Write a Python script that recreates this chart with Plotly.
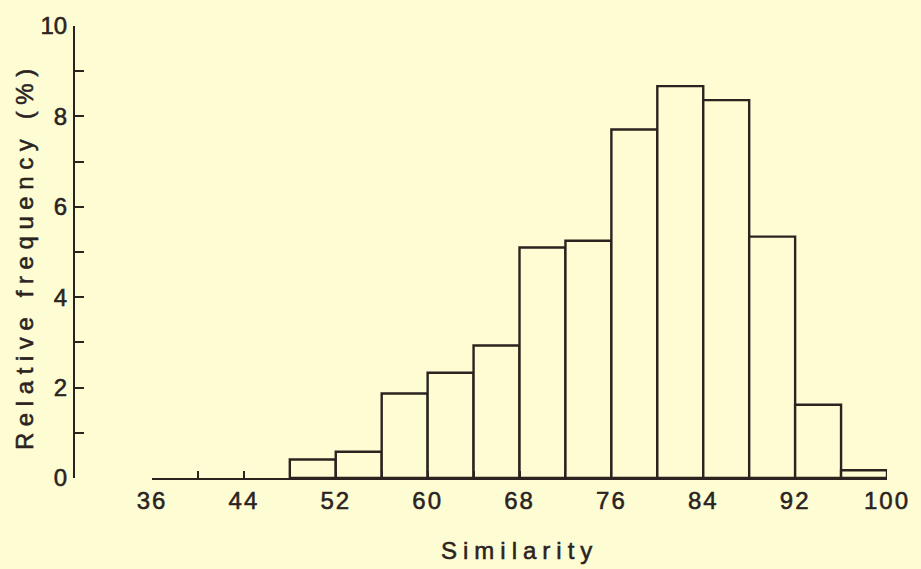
import plotly.graph_objects as go

# Data
bin_left = [48, 52, 56, 60, 64, 68, 72, 76, 80, 84, 88, 92, 96]
bin_width = 4
rel_freq = [0.41, 0.58, 1.87, 2.33, 2.93, 5.10, 5.25, 7.71, 8.67, 8.36, 5.34, 1.62, 0.17]

x_tick_vals = list(range(36, 101, 4))
x_tick_text = [str(v) if (v - 36) % 8 == 0 else "" for v in x_tick_vals]
y_tick_vals = list(range(0, 11))
y_tick_text = [str(v) if v % 2 == 0 else "" for v in y_tick_vals]

x_title = "Similarity"
y_title = "Relative frequency (%)"

BG = "#FEFCD3"
INK = "#2a231f"
FONT = "Liberation Sans, Arial, Helvetica, sans-serif"

W, H = 921, 569
ML, MR, MT, MB = 74, 34, 21, 91
plot_w = W - ML - MR
x_start_px = 152
x_dom0 = (x_start_px - ML) / plot_w

fig = go.Figure()
fig.add_trace(go.Bar(
    x=bin_left,
    y=rel_freq,
    width=[bin_width] * len(bin_left),
    offset=0,
    marker=dict(color=BG, line=dict(color=INK, width=2.4)),
    hoverinfo="skip",
))

fig.update_layout(
    width=W, height=H,
    margin=dict(l=ML, r=MR, t=MT, b=MB, pad=0),
    paper_bgcolor=BG, plot_bgcolor=BG,
    showlegend=False,
    font=dict(family=FONT, color=INK, size=24),
    bargap=0,
    xaxis=dict(
        domain=[x_dom0, 1],
        range=[36, 100],
        showgrid=False, zeroline=False,
        showline=True, linecolor=INK, linewidth=2.4,
        ticks="inside", ticklen=7, tickwidth=2, tickcolor=INK,
        tickvals=x_tick_vals, ticktext=x_tick_text,
        tickfont=dict(size=24, color=INK, family=FONT),
        fixedrange=True,
    ),
    yaxis=dict(
        anchor="free", position=0,
        range=[0, 10],
        showgrid=False, zeroline=False,
        showline=True, linecolor=INK, linewidth=2.2,
        ticks="inside", ticklen=9, tickwidth=2, tickcolor=INK,
        tickvals=y_tick_vals, ticktext=y_tick_text,
        tickfont=dict(size=24, color=INK, family=FONT),
        ticklabelstandoff=1,
        fixedrange=True,
    ),
    annotations=[
        dict(text=x_title, xref="x", yref="paper", x=68, y=-0.125,
             xanchor="center", yanchor="top", showarrow=False,
             font=dict(size=24, color=INK, family=FONT)),
        dict(text=y_title, xref="paper", yref="paper", x=0, xshift=-49, y=0.49,
             xanchor="center", yanchor="middle", textangle=-90, showarrow=False,
             font=dict(size=24, color=INK, family=FONT)),
    ],
)

post = """
document.body.style.margin = '0';
document.body.style.background = '%s';
var gd = document.getElementById('{plot_id}');
var anns = gd.querySelectorAll('.annotation-text');
if (anns.length > 0) { anns[0].style.letterSpacing = '6px'; }
if (anns.length > 1) { anns[1].style.letterSpacing = '6.6px'; }
gd.querySelectorAll('.xtick text').forEach(function(t){ t.style.letterSpacing = '2px'; });
gd.querySelectorAll('.xtick text, .ytick text, .annotation-text').forEach(function(t){
  t.style.stroke = '%s'; t.style.strokeWidth = '0.55px';
});
""" % (BG, INK)

fig.write_html("out.html", post_script=post, config={"displayModeBar": False, "staticPlot": True})
